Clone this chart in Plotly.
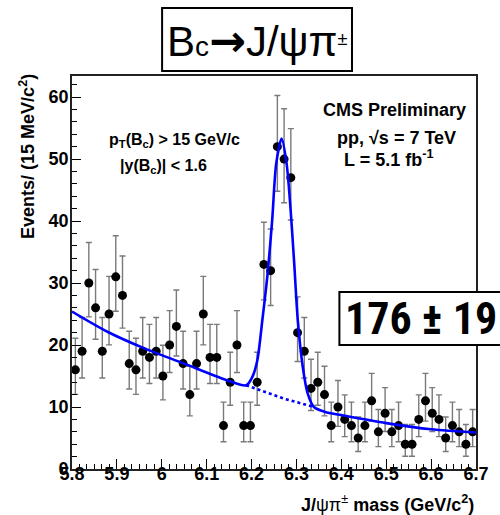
import numpy as np
import plotly.graph_objects as go

# ---------------- data ----------------
bin_lo = 5.8
bin_width = 0.015
counts = [16, 19, 30, 26, 19, 25, 31, 28, 17, 16,
          19, 18, 19, 15, 20, 23, 17, 12, 17, 25,
          18, 18, 7, 14, 20, 7, 7, 14, 33, 32,
          52, 50, 47, 22, 19, 13, 14, 12, 7, 10,
          8, 7, 5, 7, 11, 6, 9, 6, 7, 4,
          4, 8, 11, 9, 8, 5, 7, 6, 4, 6]

# total fit curve
fit_x = [5.80, 5.88, 5.96, 6.05, 6.15, 6.188, 6.202, 6.213, 6.224, 6.235,
         6.246, 6.255, 6.267, 6.278, 6.287, 6.295, 6.303, 6.314, 6.325, 6.339,
         6.364, 6.40, 6.50, 6.60, 6.70]
fit_y = [25.4, 22.1, 19.5, 17.0, 14.2, 13.5, 14.9, 17.6, 24.0, 31.0,
         40.2, 49.3, 53.3, 49.3, 41.8, 33.2, 24.0, 16.5, 12.2, 10.0,
         9.2, 8.7, 7.4, 6.4, 5.9]

# background under the peak (dotted)
bkg_x = [6.188, 6.27, 6.339]
bkg_y = [13.5, 11.4, 10.0]

x_ticks = [5.8, 5.9, 6.0, 6.1, 6.2, 6.3, 6.4, 6.5, 6.6, 6.7]
x_tick_text = ["5.8", "5.9", "6", "6.1", "6.2", "6.3", "6.4", "6.5", "6.6", "6.7"]
y_ticks = [0, 10, 20, 30, 40, 50, 60]

# ---------------- derived ----------------
n = np.array(counts, dtype=float)
centers = bin_lo + bin_width * (np.arange(len(counts)) + 0.5)
err_up = np.sqrt(n + 0.75) + 1.0
err_dn = np.sqrt(np.clip(n - 0.25, 0, None))

FONT = "Liberation Sans, Arial, Helvetica, sans-serif"
BLUE = "#0000ff"

fig = go.Figure()

fig.add_trace(go.Scatter(
    x=centers, y=n, mode="markers",
    marker=dict(color="black", size=9),
    error_y=dict(type="data", symmetric=False, array=err_up, arrayminus=err_dn,
                 color="#7a7a7a", thickness=1.4, width=3),
    showlegend=False, hoverinfo="x+y"))

fig.add_trace(go.Scatter(
    x=bkg_x, y=bkg_y, mode="lines",
    line=dict(color=BLUE, width=2.6, dash="dot"),
    showlegend=False))

fig.add_trace(go.Scatter(
    x=fit_x, y=fit_y, mode="lines",
    line=dict(color=BLUE, width=2.6, shape="spline", smoothing=0.8),
    showlegend=False))

W, H = 500, 515
ml, mr, mt, mb = 72, 11, 76, 46
pw, ph = W - ml - mr, H - mt - mb


def px(x):
    return (x - ml) / pw


def py(y):
    return (H - mb - y) / ph


fig.update_layout(
    width=W, height=H,
    margin=dict(l=ml, r=mr, t=mt, b=mb),
    paper_bgcolor="white", plot_bgcolor="white",
    font=dict(family=FONT, color="black"),
    showlegend=False,
)

fig.update_xaxes(
    range=[5.8, 6.7], tickvals=x_ticks, ticktext=x_tick_text,
    ticks="inside", ticklen=10, tickwidth=1.3, tickcolor="black",
    minor=dict(dtick=0.1 / 6, tick0=5.8, ticks="inside", ticklen=5, tickwidth=1.1,
               tickcolor="black", showgrid=False),
    showline=True, linecolor="#222", linewidth=1.6, mirror=True,
    showgrid=False, zeroline=False, ticklabelstandoff=-12,
    tickfont=dict(family=FONT, size=18, weight="bold"),
)
fig.update_yaxes(
    range=[0, 63.4], tickvals=y_ticks,
    ticks="inside", ticklen=9, tickwidth=1.3, tickcolor="black",
    minor=dict(dtick=2, ticks="inside", ticklen=5, tickwidth=1.1, tickcolor="black", showgrid=False),
    showline=True, linecolor="#222", linewidth=1.6, mirror=True,
    showgrid=False, zeroline=False, ticklabelstandoff=-2,
    tickfont=dict(family=FONT, size=18, weight="bold"),
)

ann = []
# axis titles
ann.append(dict(text="<b>J/</b>ψπ<sup>±</sup><b> mass (GeV/c<sup>2</sup>)</b>",
                xref="paper", yref="paper", x=1.0, y=py(503), xanchor="right", yanchor="middle",
                showarrow=False, font=dict(family=FONT, size=18)))
ann.append(dict(text="<b>Events/ (15 MeV/c<sup>2</sup>)</b>",
                xref="paper", yref="paper", x=px(26), y=py(72), xanchor="center", yanchor="top",
                textangle=-90, showarrow=False, font=dict(family=FONT, size=18)))
# CMS labels
ann.append(dict(text="<b>CMS Preliminary</b>", xref="paper", yref="paper", x=px(405), y=py(110),
                xanchor="center", yanchor="middle", showarrow=False, font=dict(family=FONT, size=18)))
ann.append(dict(text="<b>pp, √s = 7 TeV</b>", xref="paper", yref="paper", x=px(407), y=py(138),
                xanchor="center", yanchor="middle", showarrow=False, font=dict(family=FONT, size=18)))
ann.append(dict(text="<b>L = 5.1 fb<sup>-1</sup></b>", xref="paper", yref="paper", x=px(399), y=py(158),
                xanchor="center", yanchor="middle", showarrow=False, font=dict(family=FONT, size=18)))
# cuts
ann.append(dict(text="<b>p<sub>T</sub>(B<sub>c</sub>) > 15 GeV/c</b>", xref="paper", yref="paper",
                x=px(178), y=py(140), xanchor="center", yanchor="middle", showarrow=False,
                font=dict(family=FONT, size=16)))
ann.append(dict(text="<b>|y(B<sub>c</sub>)| < 1.6</b>", xref="paper", yref="paper",
                x=px(166), y=py(166), xanchor="center", yanchor="middle", showarrow=False,
                font=dict(family=FONT, size=16)))
# title
ann.append(dict(text="B<span style='font-size:28px'>c</span>"
                     "<span style='font-family:DejaVu Sans;font-weight:bold;font-size:44px'>→</span>"
                     "J/ψπ<span style='font-size:26px'><sup>±</sup></span>",
                xref="paper", yref="paper", x=px(263), y=py(40), xanchor="center", yanchor="middle",
                showarrow=False, font=dict(family=FONT, size=42)))
# yield
ann.append(dict(text="<b>176 ± 19</b>", xref="paper", yref="paper", x=px(352), y=py(319),
                xanchor="left", yanchor="middle", showarrow=False,
                font=dict(family="Liberation Sans Narrow, Roboto Condensed, " + FONT, size=44)))
fig.update_layout(annotations=ann)

fig.update_layout(shapes=[
    dict(type="rect", xref="paper", yref="paper", x0=px(165), x1=px(361), y0=py(71), y1=py(8),
         line=dict(color="black", width=2), fillcolor="white", layer="above"),
    dict(type="rect", xref="paper", yref="paper", x0=px(348), x1=px(520), y0=py(345), y1=py(292),
         line=dict(color="black", width=2), fillcolor="white", layer="above"),
])

fig.write_html("out.html", config={"displayModeBar": False},
               post_script="document.body.style.margin='0';")
